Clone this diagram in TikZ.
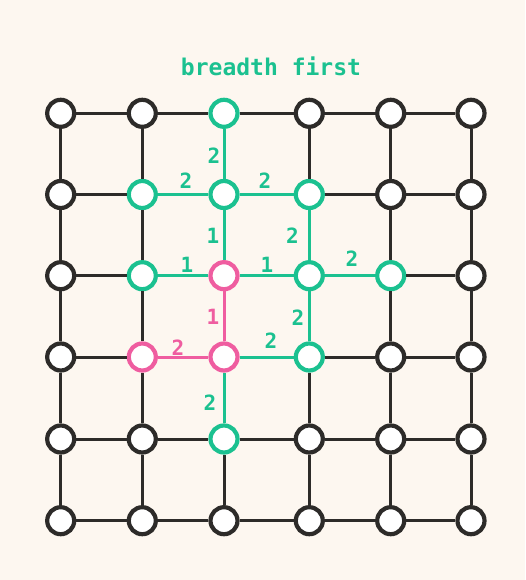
\documentclass[tikz,border=0pt]{standalone}
\usepackage{fontspec}
\setmonofont{DejaVu Sans Mono}
\definecolor{bg}{HTML}{FDF7F0}
\definecolor{dk}{HTML}{2D2B29}
\definecolor{gr}{HTML}{1BC190}
\definecolor{pk}{HTML}{EF5DA0}
\tikzset{
  gnode/.style={circle,draw=dk,fill=white,line width=4.2pt,minimum size=27pt,inner sep=0pt},
  grn/.style={draw=gr},
  pnk/.style={draw=pk},
  dedge/.style={draw=dk,line width=3pt},
  gedge/.style={draw=gr},
  pedge/.style={draw=pk},
  lbl/.style={font=\ttfamily\bfseries\fontsize{21}{21}\selectfont,inner sep=0pt},
  glbl/.style={lbl,text=gr},
  plbl/.style={lbl,text=pk},
  nd-2-0/.style={grn}, nd-1-1/.style={grn}, nd-2-1/.style={grn}, nd-3-1/.style={grn},
  nd-1-2/.style={grn}, nd-3-2/.style={grn}, nd-4-2/.style={grn}, nd-3-3/.style={grn},
  nd-2-4/.style={grn},
  nd-2-2/.style={pnk}, nd-1-3/.style={pnk}, nd-2-3/.style={pnk},
  eh-1-1/.style={gedge}, eh-2-1/.style={gedge}, eh-1-2/.style={gedge}, eh-2-2/.style={gedge},
  eh-3-2/.style={gedge}, eh-2-3/.style={gedge}, eh-1-3/.style={pedge},
  ev-2-0/.style={gedge}, ev-2-1/.style={gedge}, ev-3-1/.style={gedge}, ev-3-2/.style={gedge},
  ev-2-3/.style={gedge}, ev-2-2/.style={pedge}
}
\begin{document}
\begin{tikzpicture}[x=1pt,y=-1pt]
\fill[bg] (0,0) rectangle (525,580);
\useasboundingbox (0,0) rectangle (525,580);
\node[font=\ttfamily\bfseries\fontsize{23}{23}\selectfont,text=gr,inner sep=0pt] (title) at (271,66.5) {breadth first};
\foreach \i/\x in {0/60.7,1/142.3,2/224,3/309.3,4/390.7,5/471}{
  \foreach \j/\y in {0/113.3,1/194.5,2/275.7,3/357,4/439,5/520.7}{
    \node[gnode,nd-\i-\j/.try] (n-\i-\j) at (\x,\y) {};
  }
}
\foreach \i [evaluate=\i as \k using int(\i+1)] in {0,...,4}{
  \foreach \j in {0,...,5}{
    \draw[dedge,eh-\i-\j/.try] (n-\i-\j) -- (n-\k-\j);
    \draw[dedge,ev-\j-\i/.try] (n-\j-\i) -- (n-\j-\k);
  }
}
\node[glbl] (l1) at (214,156) {2};
\node[glbl] (l2) at (186,181) {2};
\node[glbl] (l3) at (265,181) {2};
\node[glbl] (l4) at (213,236) {1};
\node[glbl] (l5) at (292.5,236) {2};
\node[glbl] (l6) at (187,265) {1};
\node[glbl] (l7) at (267,265) {1};
\node[glbl] (l8) at (352,259) {2};
\node[plbl] (l9) at (213,317) {1};
\node[glbl] (l10) at (298,318) {2};
\node[plbl] (l11) at (178,348) {2};
\node[glbl] (l12) at (271,341) {2};
\node[glbl] (l13) at (210,403) {2};
\end{tikzpicture}
\end{document}
